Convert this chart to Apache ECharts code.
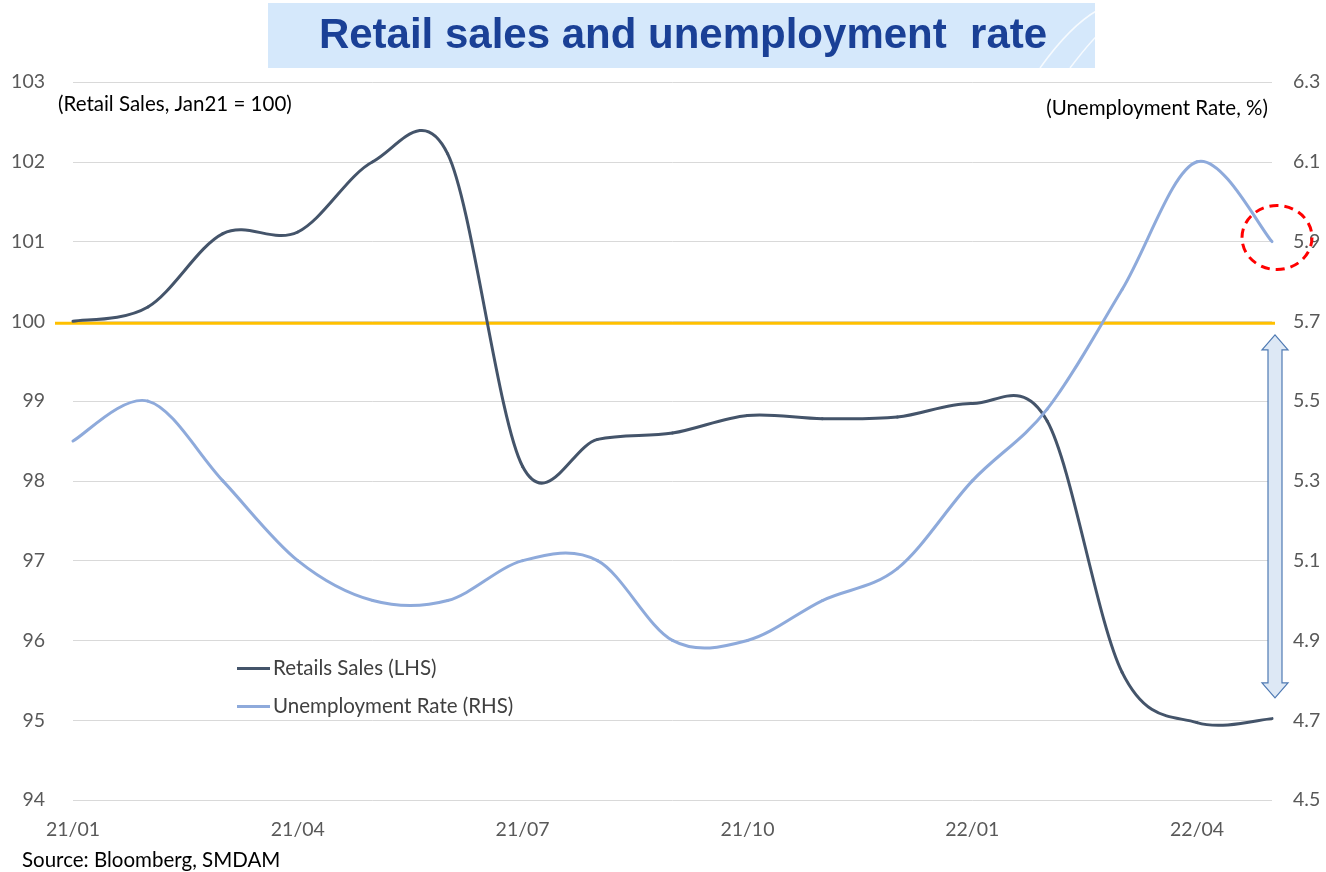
<!DOCTYPE html>
<html><head><meta charset="utf-8">
<script src="https://cdn.jsdelivr.net/npm/echarts@6/dist/echarts.min.js"></script>
<style>html,body{margin:0;padding:0;background:#fff}#c{width:1326px;height:872px}</style>
</head><body><div id="c"></div>
<script>
// ---- data ----
const categories = ['21/01','21/02','21/03','21/04','21/05','21/06','21/07','21/08','21/09','21/10','21/11','21/12','22/01','22/02','22/03','22/04','22/05'];
const retailSales = [100.0, 100.18, 101.1, 101.12, 102.0, 102.1, 98.18, 98.52, 98.6, 98.82, 98.78, 98.8, 98.97, 98.75, 95.6, 94.97, 95.02];
const unemploymentRate = [5.4, 5.5, 5.3, 5.1, 5.0, 5.0, 5.1, 5.1, 4.9, 4.9, 5.0, 5.08, 5.3, 5.48, 5.78, 6.1, 5.9];
const leftAxisRange = [94, 103];
const rightAxisRange = [4.5, 6.3];
const referenceLevel = 100;           // Jan21 = 100 line
const arrowRange = [99.83, 95.28];    // double arrow span on LHS scale
const seriesNames = ['Retails Sales (LHS)', 'Unemployment Rate (RHS)'];
const seriesColors = ['#44546a', '#8eaadb'];

const FONT = 'Lato, "Open Sans", sans-serif';
const chart = echarts.init(document.getElementById('c'), null, {renderer: 'canvas'});

// Smoothed line (Catmull-Rom through each data point), drawn through the axes' scales.
function smoothLine(color) {
  return function (params, api) {
    const i = params.dataIndexInside;
    const cnt = params.dataInsideLength;
    if (i >= cnt - 1) return null;
    const P = k => {
      k = Math.max(0, Math.min(cnt - 1, k));
      return api.coord([api.value(0, k), api.value(1, k)]);
    };
    const p0 = P(i - 1), p1 = P(i), p2 = P(i + 1), p3 = P(i + 2);
    return {
      type: 'bezierCurve',
      shape: {
        x1: p1[0], y1: p1[1], x2: p2[0], y2: p2[1],
        cpx1: p1[0] + (p2[0] - p0[0]) / 6, cpy1: p1[1] + (p2[1] - p0[1]) / 6,
        cpx2: p2[0] - (p3[0] - p1[0]) / 6, cpy2: p2[1] - (p3[1] - p1[1]) / 6
      },
      style: {stroke: color, lineWidth: 3, fill: null, lineCap: 'round'}
    };
  };
}

chart.setOption({
  animation: false,
  backgroundColor: '#ffffff',
  grid: {left: 73, right: 54, top: 82, bottom: 72, containLabel: false},
  legend: {
    orient: 'vertical', left: 237, top: 658, itemGap: 17, padding: 0,
    itemWidth: 33, itemHeight: 3,
    textStyle: {fontFamily: FONT, fontSize: 20.5, color: '#404040', padding: [0, 0, 0, -2]},
    data: seriesNames.map(n => ({name: n, icon: 'rect'}))
  },
  xAxis: {
    type: 'category', data: categories, boundaryGap: false,
    axisLine: {show: false}, axisTick: {show: false},
    axisLabel: {interval: 2, margin: 20, fontFamily: FONT, fontSize: 19.5, color: '#595959'},
    splitLine: {show: false}
  },
  yAxis: [
    {type: 'value', min: leftAxisRange[0], max: leftAxisRange[1], interval: 1,
     axisLine: {show: false}, axisTick: {show: false},
     axisLabel: {margin: 28, fontFamily: FONT, fontSize: 19.5, color: '#595959'},
     splitLine: {show: true, lineStyle: {color: '#d9d9d9', width: 1}}},
    {type: 'value', min: rightAxisRange[0], max: rightAxisRange[1], interval: 0.1,
     axisLine: {show: false}, axisTick: {show: false},
     axisLabel: {margin: 21, fontFamily: FONT, fontSize: 19.5, color: '#595959',
       formatter: v => (Math.round(v * 10) % 2 === 1 ? v.toFixed(1) : '')},
     splitLine: {show: false}}
  ],
  series: [
    {name: seriesNames[0], type: 'custom', yAxisIndex: 0, z: 3,
     data: retailSales.map((v, k) => [categories[k], v]),
     encode: {x: 0, y: 1},
     itemStyle: {color: seriesColors[0]},
     renderItem: smoothLine(seriesColors[0])},
    {name: seriesNames[1], type: 'custom', yAxisIndex: 1, z: 3,
     data: unemploymentRate.map((v, k) => [categories[k], v]),
     encode: {x: 0, y: 1},
     itemStyle: {color: seriesColors[1]},
     renderItem: smoothLine(seriesColors[1])}
  ]
});

// ---- annotations positioned through the chart's own scales ----
const n = categories.length - 1;
const xFirst = chart.convertToPixel({xAxisIndex: 0}, categories[0]);
const xLast = chart.convertToPixel({xAxisIndex: 0}, categories[n]);
const yRef = chart.convertToPixel({yAxisIndex: 0}, referenceLevel);
const yTop = chart.convertToPixel({yAxisIndex: 0}, arrowRange[0]);
const yBot = chart.convertToPixel({yAxisIndex: 0}, arrowRange[1]);
const yLast = chart.convertToPixel({yAxisIndex: 1}, unemploymentRate[n]);

const cx = xLast + 3, hw = 7, hh = 13, hl = 15;
const arrowPts = [
  [cx, yTop], [cx + hh, yTop + hl], [cx + hw, yTop + hl], [cx + hw, yBot - hl],
  [cx + hh, yBot - hl], [cx, yBot], [cx - hh, yBot - hl], [cx - hw, yBot - hl],
  [cx - hw, yTop + hl], [cx - hh, yTop + hl]
];

chart.setOption({
  graphic: [
    {type: 'rect', z: 10, shape: {x: 268, y: 3, width: 827, height: 65},
     style: {fill: '#d5e8fb'}},
    {type: 'bezierCurve', z: 11, shape: {x1: 1040, y1: 68, x2: 1098, y2: 10, cpx1: 1060, cpy1: 40, cpx2: 1080, cpy2: 20},
     style: {stroke: 'rgba(255,255,255,0.8)', lineWidth: 1.5, fill: null}},
    {type: 'bezierCurve', z: 11, shape: {x1: 1070, y1: 68, x2: 1098, y2: 35, cpx1: 1080, cpy1: 55, cpx2: 1090, cpy2: 42},
     style: {stroke: 'rgba(255,255,255,0.8)', lineWidth: 1.5, fill: null}},
    {type: 'text', z: 12, x: 683, y: 36,
     style: {text: 'Retail sales and unemployment  rate', fill: '#1a4096',
       font: 'bold 42px "Liberation Sans", Arial, sans-serif', textAlign: 'center', textVerticalAlign: 'middle'}},
    {type: 'text', z: 12, x: 58, y: 104,
     style: {text: '(Retail Sales, Jan21 = 100)', fill: '#000000',
       font: '20.5px ' + FONT, textAlign: 'left', textVerticalAlign: 'middle'}},
    {type: 'text', z: 12, x: 1268, y: 108,
     style: {text: '(Unemployment Rate, %)', fill: '#000000',
       font: '20.5px ' + FONT, textAlign: 'right', textVerticalAlign: 'middle'}},
    {type: 'text', z: 12, x: 22, y: 860,
     style: {text: 'Source: Bloomberg, SMDAM', fill: '#000000',
       font: '20.5px ' + FONT, textAlign: 'left', textVerticalAlign: 'middle'}},
    {type: 'line', z: 1, shape: {x1: xFirst - 18, y1: yRef + 2, x2: xLast + 3, y2: yRef + 2},
     style: {stroke: '#ffc000', lineWidth: 3}},
    {type: 'polygon', z: 12, shape: {points: arrowPts},
     style: {fill: '#dde8f5', stroke: '#4f7ab3', lineWidth: 1.2}},
    {type: 'ellipse', z: 12, shape: {cx: xLast + 5, cy: yLast - 4, rx: 35, ry: 32},
     style: {fill: null, stroke: '#ff0000', lineWidth: 3, lineDash: [9, 6]}}
  ]
});
</script></body></html>
